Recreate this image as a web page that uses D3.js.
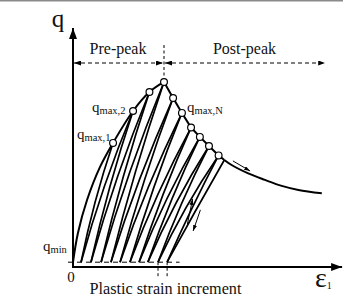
<!DOCTYPE html>
<html><head><meta charset="utf-8">
<script src="https://cdn.jsdelivr.net/npm/d3@7/dist/d3.min.js"></script>
<style>html,body{margin:0;padding:0;background:#fff;}svg{display:block;}</style>
</head><body><svg id="c" width="343" height="300"></svg>
<script>
// ---- data (strain ε1 and deviatoric stress q, arbitrary units) ----
const qMin = 0.2;
const initialStrain = [0, 0.19, 0.54, 1.04];
const initialStress = [0.2, 1.42, 2.79, 4.17];
const peakStrain = [1.54, 2.31, 2.94, 3.50, 3.85, 4.19, 4.54, 4.88, 5.23, 5.60];
const peakStress = [5.17, 6.50, 7.29, 7.71, 7.04, 6.42, 5.81, 5.42, 5.04, 4.65];
const residualStrain = [0.31, 0.69, 1.08, 1.46, 1.81, 2.19, 2.54, 2.88, 3.27, 3.62];
const softeningStrain = [5.82, 6.10, 6.74, 7.38, 8.03, 8.67, 9.57];
const softeningStress = [4.46, 4.25, 3.90, 3.63, 3.38, 3.21, 3.07];
const peakIndex = 3;
const labels = {q:"q", pre:"Pre-peak", post:"Post-peak", qmax1:["q","max,1"], qmax2:["q","max,2"], qmaxN:["q","max,N"], qmin:["q","min"], zero:"0", eps:["ε","1"], plastic:"Plastic strain increment"};

const FONT = "Liberation Serif";
const svg = d3.select("#c");
const x = d3.scaleLinear().domain([0, 10]).range([73, 333]);
const y = d3.scaleLinear().domain([0, 10]).range([267, 27]);

// frame line at top
svg.append("rect").attr("x",0).attr("y",0).attr("width",343).attr("height",1.5).attr("fill","#8a8a8a");

const defs = svg.append("defs");
function marker(id, len, wid){
  defs.append("marker").attr("id",id).attr("viewBox",`0 0 ${len} ${wid}`)
    .attr("refX",len).attr("refY",wid/2).attr("markerWidth",len).attr("markerHeight",wid)
    .attr("markerUnits","userSpaceOnUse").attr("orient","auto-start-reverse")
    .append("path").attr("d",`M0,0L${len},${wid/2}L0,${wid}Z`).attr("fill","#000");
}
marker("axArrow", 11, 8);
marker("smArrow", 7, 5);
marker("tinyArrow", 6, 4);

// axes
svg.append("line").attr("x1",x(0)).attr("y1",y(0)+1).attr("x2",x(0)).attr("y2",y(10)+1)
  .attr("stroke","#000").attr("stroke-width",2).attr("marker-end","url(#axArrow)");
svg.append("line").attr("x1",x(0)-1).attr("y1",y(0)).attr("x2",x(10.35)).attr("y2",y(0))
  .attr("stroke","#000").attr("stroke-width",2).attr("marker-end","url(#axArrow)");

// q_min dashed line
svg.append("line").attr("x1",x(0)-5).attr("x2",x(4.1)).attr("y1",y(qMin)).attr("y2",y(qMin))
  .attr("stroke","#000").attr("stroke-width",1).attr("stroke-dasharray","5,4");
// plastic strain increment markers
[residualStrain[8], residualStrain[9]].forEach(e=>{
  svg.append("line").attr("x1",x(e)).attr("x2",x(e)).attr("y1",y(qMin)).attr("y2",y(-0.45))
    .attr("stroke","#000").attr("stroke-width",1).attr("stroke-dasharray","3,2.5");
});

// pre/post peak indicators
const yInd = 8.5;
svg.append("line").attr("x1",x(0)+1).attr("x2",x(peakStrain[peakIndex])-1).attr("y1",y(yInd)).attr("y2",y(yInd))
  .attr("stroke","#000").attr("stroke-width",1).attr("stroke-dasharray","4,3")
  .attr("marker-start","url(#smArrow)").attr("marker-end","url(#smArrow)");
svg.append("line").attr("x1",x(peakStrain[peakIndex])+1).attr("x2",x(9.7)).attr("y1",y(yInd)).attr("y2",y(yInd))
  .attr("stroke","#000").attr("stroke-width",1).attr("stroke-dasharray","4,3")
  .attr("marker-start","url(#smArrow)").attr("marker-end","url(#smArrow)");
svg.append("line").attr("x1",x(peakStrain[peakIndex])).attr("x2",x(peakStrain[peakIndex]))
  .attr("y1",y(9.25)).attr("y2",y(peakStress[peakIndex])-4)
  .attr("stroke","#000").attr("stroke-width",1).attr("stroke-dasharray","3,2.5");

// loop lines (slightly bowed)
function bowPath(x0,y0,x1,y1,bow){
  const mx=(x0+x1)/2, my=(y0+y1)/2, dx=x1-x0, dy=y1-y0, len=Math.hypot(dx,dy);
  const cx = mx + 2*bow*dy/len, cy = my - 2*bow*dx/len;
  return `M${x0},${y0}Q${cx},${cy} ${x1},${y1}`;
}
const loops = svg.append("g").attr("fill","none").attr("stroke","#000").attr("stroke-width",1.7);
peakStrain.forEach((e,i)=>{
  const last = i === peakStrain.length-1;
  loops.append("path").attr("d", bowPath(x(residualStrain[i]), y(qMin), x(e), y(peakStress[i]), last?1:2));
  const ne = !last ? peakStrain[i+1] : softeningStrain[0];
  const nq = !last ? peakStress[i+1] : softeningStress[0];
  loops.append("path").attr("d", bowPath(x(residualStrain[i]), y(qMin), x(ne), y(nq), last?0.3:2.6));
});

// envelope
const preE = initialStrain.map((e,i)=>[e, initialStress[i]])
  .concat(peakStrain.slice(0, peakIndex+1).map((e,i)=>[e, peakStress[i]]));
const postE = peakStrain.slice(peakIndex).map((e,i)=>[e, peakStress[i+peakIndex]]);
postE.push([softeningStrain[0], softeningStress[0]]);
const soft = softeningStrain.map((e,i)=>[e, softeningStress[i]]);
svg.append("path").attr("d", d3.line().x(d=>x(d[0])).y(d=>y(d[1])).curve(d3.curveCatmullRom.alpha(0.5))(preE))
  .attr("fill","none").attr("stroke","#000").attr("stroke-width",2);
svg.append("path").attr("d", d3.line().x(d=>x(d[0])).y(d=>y(d[1]))(postE))
  .attr("fill","none").attr("stroke","#000").attr("stroke-width",2);
svg.append("path").attr("d", d3.line().x(d=>x(d[0])).y(d=>y(d[1])).curve(d3.curveCatmullRom.alpha(0.5))(soft))
  .attr("fill","none").attr("stroke","#000").attr("stroke-width",2);

// circles
svg.append("g").selectAll("circle").data(peakStrain).join("circle")
  .attr("cx",(d)=>x(d)).attr("cy",(d,i)=>y(peakStress[i])).attr("r",3.4)
  .attr("fill","#fff").attr("stroke","#000").attr("stroke-width",1.2);

// direction arrows
const arrowSets = [
  {from:[6.15,4.42], to:[6.81,4.00]},
  {from:[4.40,1.79], to:[4.60,2.83]},
  {from:[4.90,2.38], to:[4.62,1.50]}
];
arrowSets.forEach(a=>{
  svg.append("line").attr("x1",x(a.from[0])).attr("y1",y(a.from[1])).attr("x2",x(a.to[0])).attr("y2",y(a.to[1]))
    .attr("stroke","#000").attr("stroke-width",1).attr("marker-end","url(#tinyArrow)");
});

// labels
function txt(tx, ty, size, anchor){
  return svg.append("text").attr("x",tx).attr("y",ty).style("font-family",FONT)
    .style("font-size",size+"px").attr("text-anchor",anchor||"start").attr("fill","#111");
}
function subLabel(tx, ty, parts, big, small, dy){
  const t = txt(tx, ty, big);
  t.append("tspan").text(parts[0]);
  t.append("tspan").attr("dy",dy).style("font-size",small+"px").text(parts[1]);
  return t;
}
txt(58, 27, 25, "middle").text(labels.q);
txt(118, 54, 16, "middle").text(labels.pre);
txt(244.5, 54, 16, "middle").text(labels.post);
subLabel(77, 138.5, labels.qmax1, 15, 10.5, 2);
subLabel(92, 112, labels.qmax2, 15, 10.5, 2);
subLabel(187, 112, labels.qmaxN, 15, 10.5, 2);
subLabel(43, 251, labels.qmin, 15, 10.5, 2);
txt(71, 282, 15, "middle").text(labels.zero);
subLabel(315, 287, labels.eps, 28, 10, 2);
txt(165.5, 294, 16.2, "middle").text(labels.plastic);
</script></body></html>
